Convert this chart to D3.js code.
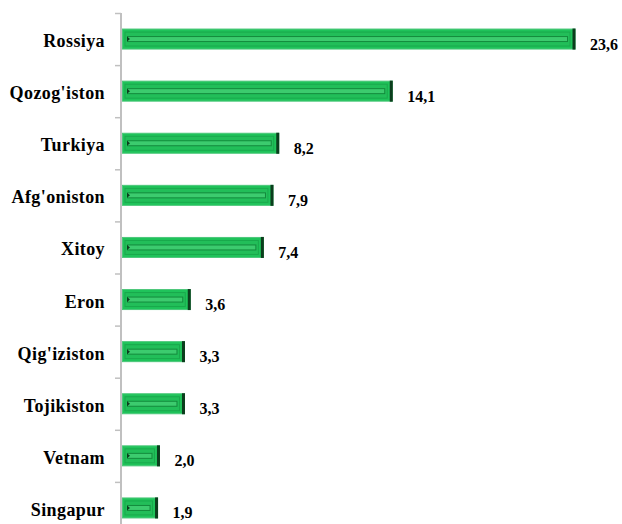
<!DOCTYPE html>
<html><head><meta charset="utf-8">
<script src="https://cdn.jsdelivr.net/npm/d3@7"></script>
<style>body{margin:0;background:#fff;}svg{display:block;}</style>
</head><body>
<script>
const categories = ["Rossiya","Qozog'iston","Turkiya","Afg'oniston","Xitoy","Eron","Qig'iziston","Tojikiston","Vetnam","Singapur"];
const values = [23.6,14.1,8.2,7.9,7.4,3.6,3.3,3.3,2.0,1.9];
const valueLabels = ["23,6","14,1","8,2","7,9","7,4","3,6","3,3","3,3","2,0","1,9"];

const W=622,H=524;
const svg=d3.select("body").append("svg").attr("width",W).attr("height",H);
const x0=121;
const x=d3.scaleLinear().domain([0,23.6]).range([x0,575]);
const y=d3.scaleBand().domain(categories).range([13,534]).padding(0);
const barH=21;

const g=svg.append("g").attr("transform",`translate(${x0},0)`);
g.append("line").attr("x1",0).attr("x2",0).attr("y1",13).attr("y2",H).attr("stroke","#c0c0c0").attr("stroke-width",2);
const tickPos=categories.map(c=>y(c));
g.selectAll("line.tk").data(tickPos).join("line").attr("class","tk")
 .attr("x1",-6).attr("x2",0).attr("y1",d=>d+0.5).attr("y2",d=>d+0.5).attr("stroke","#c0c0c0").attr("stroke-width",1.5);

const bars=svg.append("g").selectAll("g").data(values).join("g")
 .attr("transform",(d,i)=>`translate(0,${y(categories[i])+y.bandwidth()/2-barH/2})`);
bars.append("rect").attr("x",x0+1.5).attr("y",0.5).attr("width",d=>x(d)-x0-1.5).attr("height",barH-1)
 .attr("fill","#1fc35a").attr("stroke","#4cc77a").attr("stroke-width",1);
bars.append("rect").attr("x",x0+4).attr("y",3.5).attr("width",d=>x(d)-x0-9).attr("height",barH-7)
 .attr("fill","#22be59").attr("stroke","#1aa84c").attr("stroke-width",1);
bars.append("rect").attr("x",x0+6.5).attr("y",barH/2-2.5).attr("width",d=>x(d)-x0-14).attr("height",5)
 .attr("fill","#3ccb6e").attr("stroke","#138a3c").attr("stroke-width",1);
bars.append("rect").attr("x",d=>x(d)-2.5).attr("y",0).attr("width",3).attr("height",barH)
 .attr("fill","#0c3d1d");
bars.append("path").attr("d",`M${x0+6},${barH/2-2.5}L${x0+9},${barH/2}L${x0+6},${barH/2+2.5}Z`).attr("fill","#0c3d1d");

svg.append("g").selectAll("text").data(valueLabels).join("text")
 .attr("x",(d,i)=>x(values[i])+15).attr("y",(d,i)=>y(categories[i])+y.bandwidth()/2+10.5)
 .attr("font-family","'Liberation Serif','Times New Roman',serif").attr("font-weight","bold")
 .attr("font-size",16).attr("fill","#000").text(d=>d);

svg.append("g").selectAll("text").data(categories).join("text")
 .attr("x",105).attr("y",d=>y(d)+y.bandwidth()/2+8).attr("text-anchor","end")
 .attr("font-family","'Liberation Serif','Times New Roman',serif").attr("font-weight","bold")
 .attr("font-size",18).attr("letter-spacing","0.4px").attr("fill","#000").text(d=>d);
</script>
</body></html>
